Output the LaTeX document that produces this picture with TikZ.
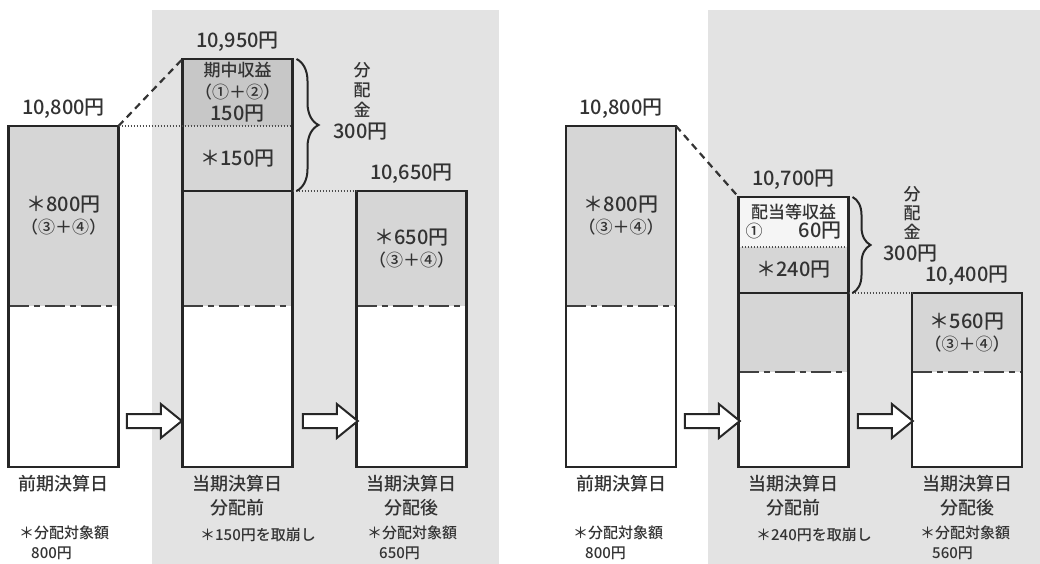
\documentclass[tikz,border=0pt]{standalone}
\usepackage{fontspec}
\setmainfont{Noto Sans CJK JP Medium}
\usetikzlibrary{arrows.meta,positioning,fit,shapes.arrows,decorations.pathreplacing}
\definecolor{panelgray}{gray}{0.89}
\definecolor{fillgray}{gray}{0.84}
\definecolor{incgray}{gray}{0.78}
\definecolor{divgray}{gray}{0.96}
\definecolor{inkgray}{gray}{0.2}
\newcommand{\pairfont}{\fontsize{17}{19}\selectfont}
\newcommand{\wordfont}{\fontsize{17}{20}\selectfont}
\tikzset{
  sect/.style={minimum width=110pt, minimum height=#1, inner sep=0pt, outer sep=0pt, align=center, text=inkgray, font=\fontsize{20}{21}\selectfont},
  bar/.style={draw=black!85, line width=2.6pt, inner sep=0pt, outer sep=0pt},
  barline/.style={draw=black!85, line width=2.6pt},
  navline/.style={draw=black!75, line width=2pt, dash pattern=on 20pt off 5pt on 6pt off 5pt},
  dotline/.style={draw=black!70, line width=1.5pt, dash pattern=on 1.5pt off 1.5pt},
  dashline/.style={draw=black!80, line width=2.2pt, dash pattern=on 7pt off 5pt},
  dbrace/.style={decorate, decoration={brace, amplitude=#1}, draw=black!85, line width=2pt},
  val/.style={text=inkgray, font=\fontsize{20}{21}\selectfont, inner sep=0pt},
  lab/.style={text=inkgray, font=\fontsize{18}{24}\selectfont, align=center, inner sep=0pt},
  note/.style={text=inkgray, font=\fontsize{15}{20}\selectfont, align=left, inner sep=0pt},
  fatarrow/.style={single arrow, draw=black!85, fill=white, line width=2pt, minimum height=55pt, inner sep=6pt, single arrow head extend=10pt, single arrow tip angle=78}
}

\begin{document}
\begin{tikzpicture}[x=1pt, y=-1pt]
\useasboundingbox (0,0) rectangle (1040,564);
\fill[white] (0,0) rectangle (1040,564);
\fill[panelgray] (152,10) rectangle (499,564);
\fill[panelgray] (708,10) rectangle (1040,564);

% left case: 期中収益あり
\node[sect=180pt, fill=fillgray, anchor=north] (prev1a) at (63.5,126) {＊800円\\[1pt]{\pairfont （③＋④）}};
\node[sect=161pt, fill=white, below=0pt of prev1a] (prev1b) {};
\draw[navline] (prev1a.south west) -- (prev1a.south east);
\node[bar, fit=(prev1a)(prev1b)] (prev1) {};
\node[val, above=7pt of prev1] (v1) {10,800円};

\node[sect=67pt, fill=incgray, anchor=north] (bef1a) at (237.5,59) {{\wordfont 期中収益}\\[1pt]{\pairfont （①＋②）}\\[1pt]150円};
\node[sect=65pt, fill=fillgray, below=0pt of bef1a] (bef1b) {＊150円};
\node[sect=115pt, fill=fillgray, below=0pt of bef1b] (bef1c) {};
\node[sect=161pt, fill=white, below=0pt of bef1c] (bef1d) {};
\draw[navline] (bef1c.south west) -- (bef1c.south east);
\node[bar, fit=(bef1a)(bef1d)] (bef1) {};
\draw[barline] (bef1b.south west) -- (bef1b.south east);
\node[val, above=7pt of bef1] (v2) {10,950円};

\node[sect=115pt, fill=fillgray, anchor=north] (aft1a) at (411.5,191) {＊650円\\[1pt]{\pairfont （③＋④）}};
\node[sect=161pt, fill=white, below=0pt of aft1a] (aft1b) {};
\draw[navline] (aft1a.south west) -- (aft1a.south east);
\node[bar, fit=(aft1a)(aft1b)] (aft1) {};
\node[val, above=7pt of aft1] (v3) {10,650円};

\draw[dashline] (prev1.north east) -- (bef1.north west);
\draw[dotline] (prev1.north east) -- (bef1a.south east);
\draw[dotline] (bef1b.south east) -- (aft1.north west);
\draw[dbrace=22pt] ([xshift=4pt]bef1.north east) -- ([xshift=4pt]bef1b.south east);
\node[lab, font=\fontsize{17}{20}\selectfont] (kin1) at (362,90) {分\\配\\金};
\node[val, anchor=west] (kin1v) at (333,132) {300円};

\node[fatarrow] (ar1) at (150,421) {};
\node[fatarrow] (ar2) at (326,421) {};

\node[lab, below=8pt of prev1] (lab1) {前期決算日};
\node[lab, below=8pt of bef1] (lab2) {当期決算日\\分配前};
\node[lab, below=8pt of aft1] (lab3) {当期決算日\\分配後};
\node[note, anchor=north west] (note1) at (19,526) {＊分配対象額\\\hspace{0.8em}800円};
\node[note] (note2) at (258,535) {＊150円を取崩し};
\node[note, anchor=north west] (note3) at (367,526) {＊分配対象額\\\hspace{0.8em}650円};

% right case: 配当等収益のみ
\node[sect=180pt, fill=fillgray, anchor=north] (prev2a) at (621,126) {＊800円\\[1pt]{\pairfont （③＋④）}};
\node[sect=161pt, fill=white, below=0pt of prev2a] (prev2b) {};
\draw[navline] (prev2a.south west) -- (prev2a.south east);
\node[bar, fit=(prev2a)(prev2b)] (prev2) {};
\node[val, above=7pt of prev2] (v4) {10,800円};

\node[sect=50pt, fill=divgray, anchor=north] (bef2a) at (793.5,197) {{\wordfont 配当等収益}\\[-2pt]\makebox[96pt]{{\pairfont ①}\hfill 60円}};
\node[sect=46pt, fill=fillgray, below=0pt of bef2a] (bef2b) {＊240円};
\node[sect=79pt, fill=fillgray, below=0pt of bef2b] (bef2c) {};
\node[sect=95pt, fill=white, below=0pt of bef2c] (bef2d) {};
\draw[navline] (bef2c.south west) -- (bef2c.south east);
\draw[dotline] (bef2a.south west) -- (bef2a.south east);
\node[bar, fit=(bef2a)(bef2d)] (bef2) {};
\draw[barline] (bef2b.south west) -- (bef2b.south east);
\node[val, above=7pt of bef2] (v5) {10,700円};

\node[sect=79pt, fill=fillgray, anchor=north] (aft2a) at (967,293) {＊560円\\[1pt]{\pairfont （③＋④）}};
\node[sect=95pt, fill=white, below=0pt of aft2a] (aft2b) {};
\draw[navline] (aft2a.south west) -- (aft2a.south east);
\node[bar, fit=(aft2a)(aft2b)] (aft2) {};
\node[val, above=7pt of aft2] (v6) {10,400円};

\draw[dashline] (prev2.north east) -- (bef2.north west);
\draw[dotline] (bef2b.south east) -- (aft2.north west);
\draw[dbrace=18pt] ([xshift=4pt]bef2.north east) -- ([xshift=4pt]bef2b.south east);
\node[lab, font=\fontsize{17}{19}\selectfont] (kin2) at (912,213) {分\\配\\金};
\node[val, anchor=west] (kin2v) at (883,254) {300円};

\node[fatarrow] (ar3) at (708,421) {};
\node[fatarrow] (ar4) at (881,421) {};

\node[lab, below=8pt of prev2] (lab4) {前期決算日};
\node[lab, below=8pt of bef2] (lab5) {当期決算日\\分配前};
\node[lab, below=8pt of aft2] (lab6) {当期決算日\\分配後};
\node[note, anchor=north west] (note4) at (573,526) {＊分配対象額\\\hspace{0.8em}800円};
\node[note] (note5) at (814,535) {＊240円を取崩し};
\node[note, anchor=north west] (note6) at (920,526) {＊分配対象額\\\hspace{0.8em}560円};
\end{tikzpicture}
\end{document}
